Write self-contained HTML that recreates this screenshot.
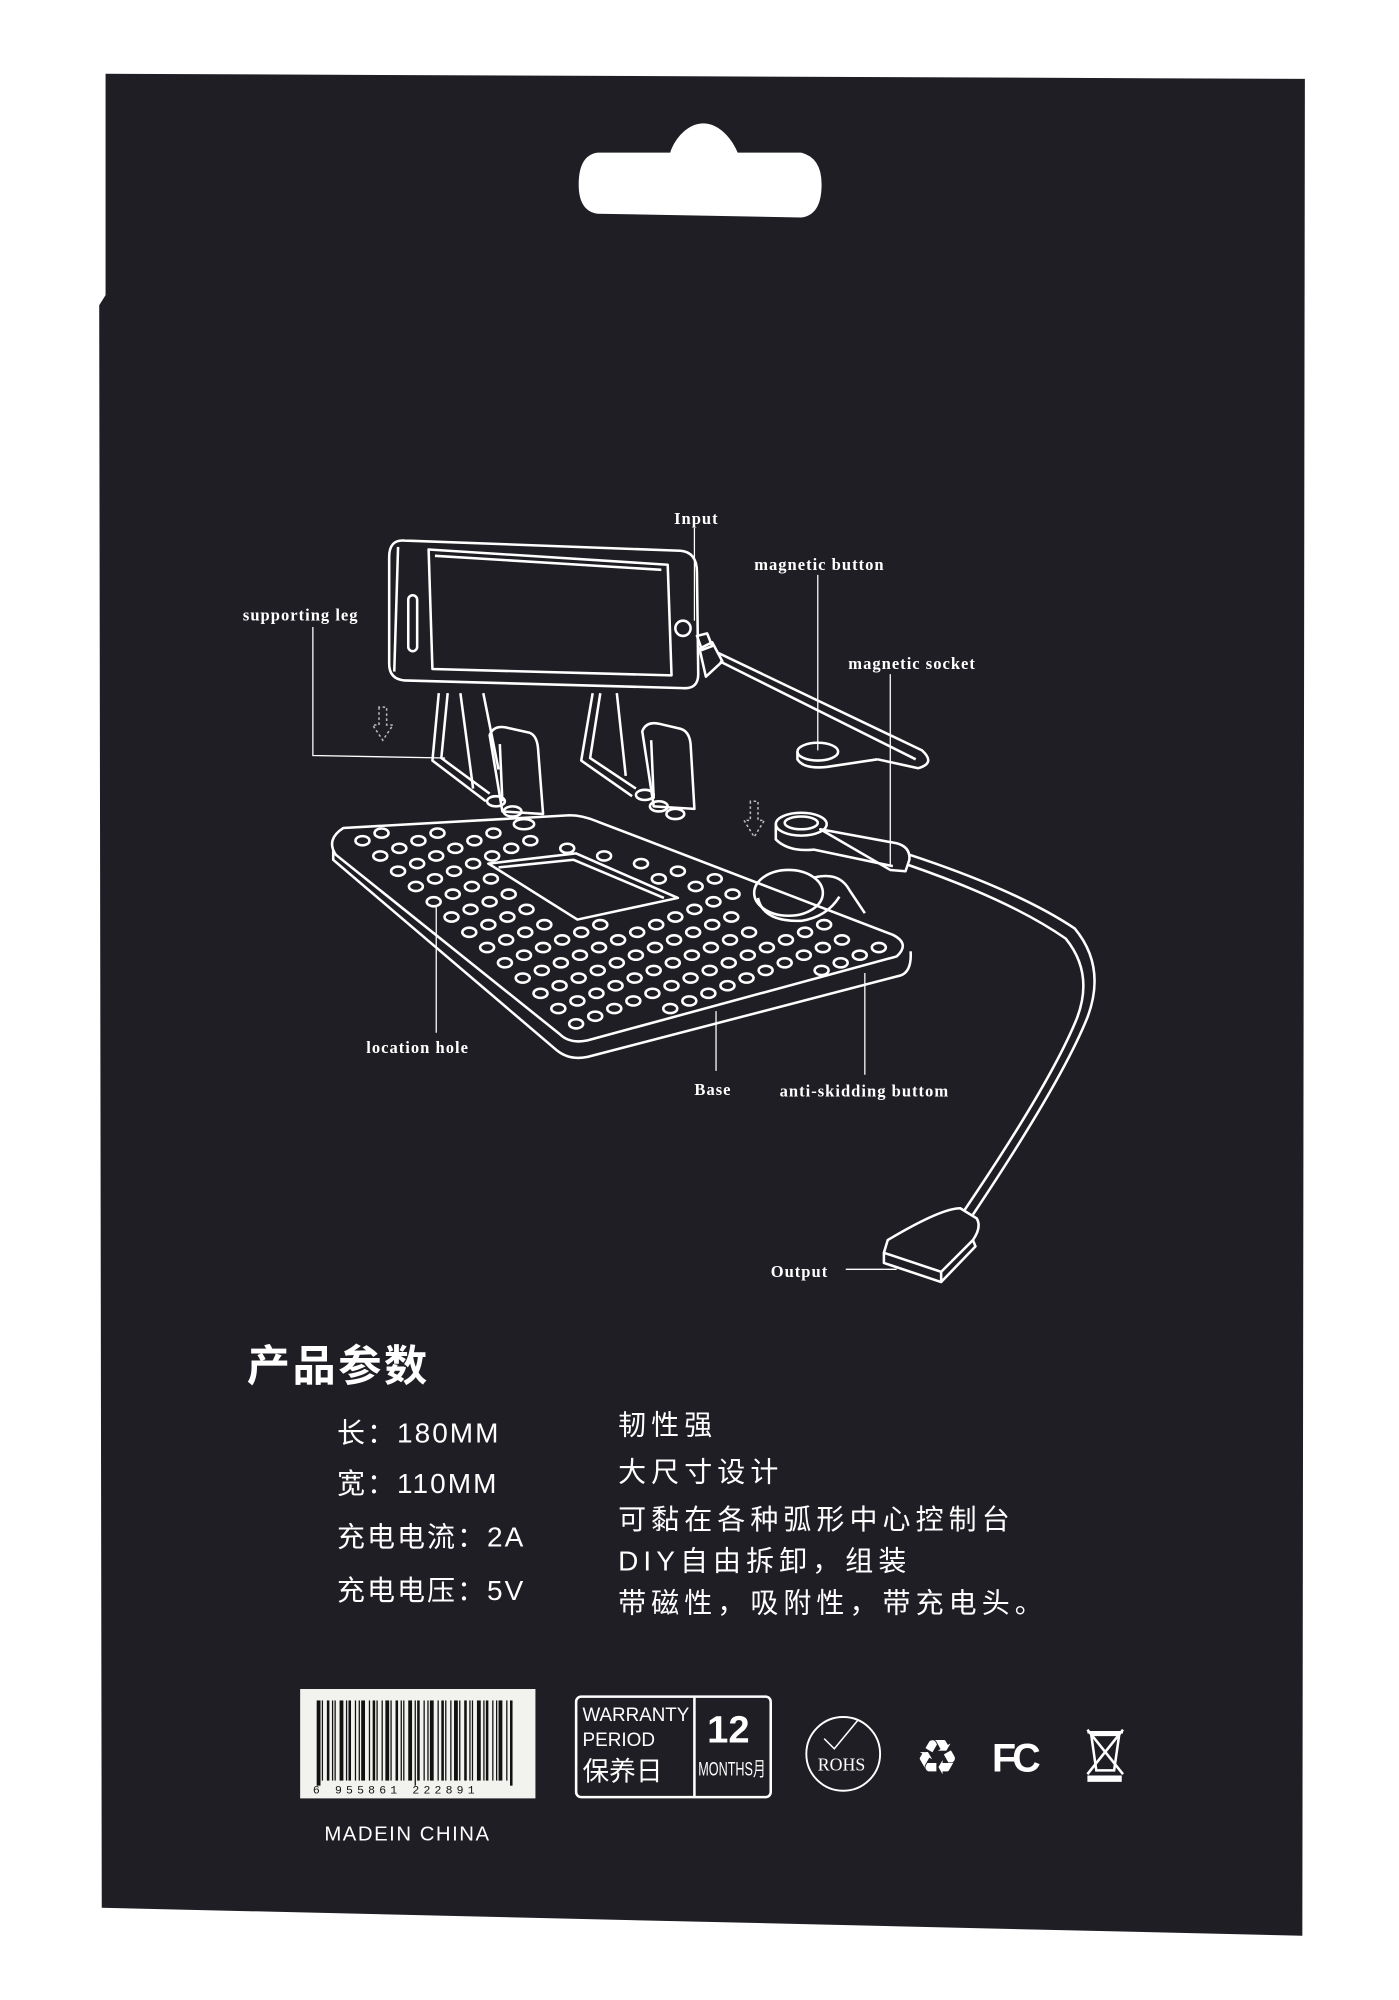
<!DOCTYPE html>
<html><head><meta charset="utf-8"><style>
html,body{margin:0;padding:0;background:#fff;}
svg{display:block;}
.lb{font-family:"Liberation Serif",serif;font-weight:bold;font-size:13px;fill:#fff;letter-spacing:0.8px;}
.cn{font-family:"Liberation Sans","Noto Sans CJK SC",sans-serif;fill:#fff;}
</style></head><body>
<svg id="s" width="1399" height="2000" viewBox="0 0 1100 1572.5" xmlns="http://www.w3.org/2000/svg">
<rect width="1100" height="1573" fill="#fff"/>
<polygon points="83,58 1026,62 1024,1522 80,1500 78,240 83,232" fill="#1f1e24"/>
<path d="M470,120 L527,120 C530,110 540,97 553,97 C566,97 576,110 580,120 L630,120 Q646,124 646,145 Q646,169 630,171 L470,168 Q455,166 455,145 Q455,122 470,120 Z" fill="#fff"/>

<g fill="none" stroke="#fff" stroke-width="2" stroke-linejoin="round">
 <path d="M318,425 L535,433 Q548,434 548,450 L549,530 Q549,542 537,541 L318,535 Q306,534 306,522 L306,438 Q306,424 318,425 Z"/>
 <path d="M313,430 L310,528"/>
 <path d="M337,432 L525,444 L528,531 L340,526 Z"/>
 <path d="M342,437 L520,448"/>
 <rect x="321" y="468" width="7" height="44" rx="3.5"/>
 <circle cx="537" cy="494" r="6"/>
 <path d="M548,500 L556,498 L560,508 L552,511 Z"/>
 <path d="M550,510 L560,505 L568,520 L555,532 Z"/>
 <path d="M564,513 L725,590 Q736,600 722,604 L690,597"/>
 <path d="M566,520 L720,597"/>
 <ellipse cx="643" cy="591" rx="16" ry="7"/>
 <path d="M627,591 L627,597 Q632,605 650,603 L690,597"/>
 <path d="M345,545 L340,598 L382,630"/>
 <path d="M352,545 L347,596 L385,624"/>
 <path d="M362,545 L372,620"/>
 <path d="M380,545 L392,605"/>
 <path d="M385,578 Q388,570 398,572 L416,576 Q422,578 423,588 L427,640 L395,638 Z"/>
 <path d="M393,585 L395,630"/>
 <path d="M466,545 L457,598 L497,626"/>
 <path d="M472,545 L464,596 L500,620"/>
 <path d="M485,545 L492,610"/>
 <path d="M505,575 Q508,567 518,569 L535,573 Q542,575 543,585 L546,636 L514,634 Z"/>
 <path d="M512,582 L514,628"/>
 <ellipse cx="390" cy="630" rx="7" ry="4"/><ellipse cx="403" cy="638" rx="7" ry="4"/><ellipse cx="412" cy="648" rx="8" ry="4"/>
 <ellipse cx="507" cy="625" rx="7" ry="4"/><ellipse cx="518" cy="634" rx="7" ry="4"/><ellipse cx="531" cy="640" rx="7" ry="4"/>
 <path d="M270,651 L448,641 Q458,641 470,646 L702,735 Q716,742 705,752 L462,818 Q448,821 440,813 L264,672 Q256,660 270,651 Z"/>
 <path d="M262,668 L262,676 L438,826 Q448,834 462,831 L708,767 Q717,764 716,748"/>
 <path d="M384,679 L453,671 L533,706 L454,723 Z"/>
 <path d="M392,682 L451,676 L522,706"/>
 <ellipse cx="620" cy="702" rx="27" ry="18"/>
 <path d="M596,706 Q600,725 630,724 Q650,721 660,705"/>
 <path d="M640,690 Q660,685 668,700 L680,718"/>
 <ellipse cx="630" cy="648" rx="20" ry="9"/>
 <ellipse cx="630" cy="647" rx="13" ry="5"/>
 <path d="M610,648 L610,660 Q620,670 640,668 L702,681"/>
 <path d="M645,652 L705,663 Q716,666 715,676 L712,685 L700,684 Z"/>
 <path d="M715,672 Q800,700 845,730 Q870,760 855,800 Q835,850 765,955"/>
 <path d="M714,680 Q795,708 838,738 Q860,765 847,800 Q827,850 758,952"/>
 <path d="M755,950 L768,958 Q772,965 765,975 L740,1000 L695,985 L698,975 Q740,950 755,950 Z"/>
 <path d="M695,985 L695,993 L740,1008 L740,1000"/>
 <path d="M740,1008 L767,980 L765,975"/>
</g>
<g fill="none" stroke="#bbb" stroke-width="1.2" stroke-dasharray="2,2">
 <path d="M298,556 L298,570 L293,570 L301,582 L309,570 L304,570 L304,556 Z"/>
 <path d="M590,630 L590,645 L585,645 L593,658 L601,645 L596,645 L596,630 Z"/>
</g>
<g id="holes" fill="none" stroke="#fff" stroke-width="2"></g>
<g stroke="#fff" stroke-width="1" fill="none">
 <path d="M546,415 L546,488"/>
 <path d="M643,452 L643,590"/>
 <path d="M700,530 L700,680"/>
 <path d="M246,493 L246,594 L350,596"/>
 <path d="M343,712 L343,812"/>
 <path d="M563,795 L563,842"/>
 <path d="M680,765 L680,845"/>
 <path d="M665,998 L705,998"/>
</g>
<text class="lb" x="530" y="412">Input</text>
<text class="lb" x="593" y="448">magnetic button</text>
<text class="lb" x="667" y="526">magnetic socket</text>
<text class="lb" x="191" y="488">supporting leg</text>
<text class="lb" x="288" y="828">location hole</text>
<text class="lb" x="546" y="861">Base</text>
<text class="lb" x="613" y="862">anti-skidding buttom</text>
<text class="lb" x="606" y="1004">Output</text>

<text class="cn" x="194" y="1086" font-size="34" font-weight="bold" letter-spacing="2">产品参数</text>
<g class="cn" font-size="22" letter-spacing="1.6">
 <text x="265" y="1134">长：180MM</text>
 <text x="265" y="1174">宽：110MM</text>
 <text x="265" y="1216">充电电流：2A</text>
 <text x="265" y="1258">充电电压：5V</text>
 <text x="486" y="1128" letter-spacing="4">韧性强</text>
 <text x="486" y="1165" letter-spacing="4">大尺寸设计</text>
 <text x="486" y="1202" letter-spacing="4">可黏在各种弧形中心控制台</text>
 <text x="486" y="1235" letter-spacing="4">DIY自由拆卸，组装</text>
 <text x="486" y="1268" letter-spacing="4">带磁性，吸附性，带充电头。</text>
</g>
<rect x="236" y="1328" width="185" height="86" fill="#f2f2ee"/>
<g id="bars" fill="#111"></g>
<text x="246" y="1410" font-family="Liberation Mono,monospace" font-size="9" fill="#111" letter-spacing="3.3">6 955861 222891</text>
<text x="255" y="1447" font-family="Liberation Sans,sans-serif" font-size="16" fill="#fff" letter-spacing="1.2">MADEIN  CHINA</text>
<rect x="453" y="1334" width="153" height="79" rx="4" fill="none" stroke="#fff" stroke-width="2"/>
<line x1="546" y1="1334" x2="546" y2="1413" stroke="#fff" stroke-width="2"/>
<g font-family="Liberation Sans,sans-serif" fill="#fff">
 <text x="458" y="1353" font-size="15" textLength="84" lengthAdjust="spacingAndGlyphs">WARRANTY</text>
 <text x="458" y="1373" font-size="15" textLength="57" lengthAdjust="spacingAndGlyphs">PERIOD</text>
 <text x="458" y="1400" font-size="21" class="cn">保养日</text>
 <text x="556" y="1370" font-size="30" font-weight="bold">12</text>
 <text x="549" y="1396" font-size="15" textLength="53" lengthAdjust="spacingAndGlyphs" class="cn">MONTHS月</text>
</g>
<circle cx="663" cy="1379" r="29" fill="none" stroke="#fff" stroke-width="1.5"/>
<path d="M648,1367 L656,1375 L675,1352" fill="none" stroke="#fff" stroke-width="1.2"/>
<text x="643" y="1392" font-family="Liberation Serif,serif" font-size="14" fill="#fff">ROHS</text>
<text x="720" y="1395" font-family="DejaVu Sans,sans-serif" font-size="38" fill="#fff">♻</text>
<text x="780" y="1393" font-family="Liberation Sans,sans-serif" font-size="31" font-weight="bold" fill="#fff" letter-spacing="-3">FC</text>
<g stroke="#fff" stroke-width="2" fill="none">
 <path d="M858,1364 L862,1392 L876,1392 L880,1364 Z"/>
 <line x1="855" y1="1362" x2="883" y2="1362"/>
 <line x1="855" y1="1360" x2="883" y2="1395"/>
 <line x1="883" y1="1360" x2="855" y2="1395"/>
 <rect x="856" y="1397" width="25" height="3" fill="#fff"/>
</g>
</svg>
<script>
(function(){
var NS="http://www.w3.org/2000/svg";
var poly=[[274,656],[446,647],[698,741],[700,750],[462,810],[446,806],[270,668]];
var win=[[377,675],[455,666],[545,706],[454,730]];
function inside(p,x,y){var c=false;for(var i=0,j=p.length-1;i<p.length;j=i++){var xi=p[i][0],yi=p[i][1],xj=p[j][0],yj=p[j][1];if(((yi>y)!=(yj>y))&&(x<(xj-xi)*(y-yi)/(yj-yi)+xi))c=!c;}return c;}
var g=document.getElementById("holes");
for(var i=-3;i<20;i++)for(var j=-3;j<14;j++){
 var x=285+i*29+j*14, y=661+i*6+j*12;
 if(inside(win,x,y))continue;
 if(Math.pow((x-620)/38,2)+Math.pow((y-705)/27,2)<1)continue;
 if(!inside(poly,x,y))continue;
 var e=document.createElementNS(NS,"ellipse");
 e.setAttribute("cx",x);e.setAttribute("cy",y);e.setAttribute("rx",5.5);e.setAttribute("ry",3.6);g.appendChild(e);}
var b=document.getElementById("bars");var xs=249,seed=7;
while(xs<404){seed=(seed*9301+49297)%233280;var w=[1,1,2,1,3][seed%5];
 var r=document.createElementNS(NS,"rect");r.setAttribute("x",xs);r.setAttribute("y",1337);r.setAttribute("width",w);
 r.setAttribute("height",(xs<252||xs>400||Math.abs(xs-326)<2)?67:63);b.appendChild(r);
 seed=(seed*9301+49297)%233280;xs+=w+1+(seed%3);}
})();
</script>
</body></html>
